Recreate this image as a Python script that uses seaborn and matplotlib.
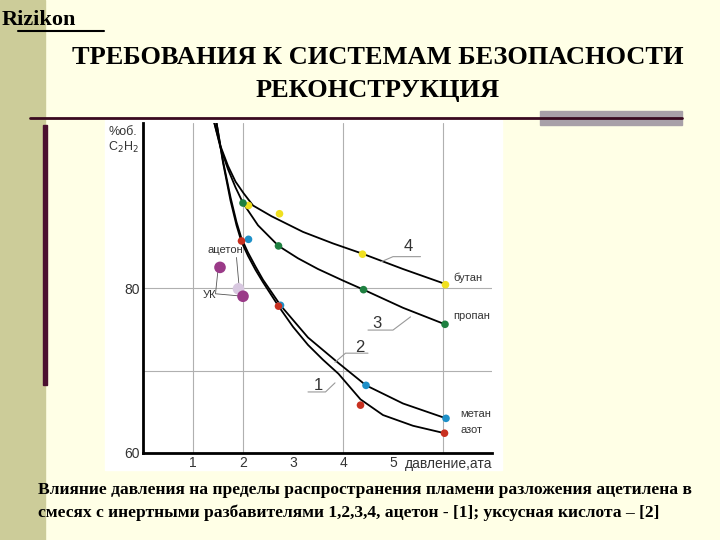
import seaborn as sns
import matplotlib.pyplot as plt
import matplotlib.patches as patches

# curve knots (pressure, %vol C2H2)
c4_x = [1.41, 1.55, 1.7, 1.85, 2.01, 2.2, 2.57, 3.2, 3.8, 4.37, 5.2, 6.04]
c4_y = [100.4, 97.2, 94.8, 92.9, 91.5, 90.0, 88.7, 86.8, 85.4, 84.2, 82.3, 80.5]
c3_x = [1.41, 1.55, 1.7, 1.85, 2.0, 2.3, 2.71, 3.1, 3.5, 4.0, 4.41, 5.2, 6.04]
c3_y = [100.4, 97.0, 94.4, 92.2, 90.3, 87.6, 85.1, 83.6, 82.3, 80.9, 79.8, 77.6, 75.6]
c2_x = [1.46, 1.6, 1.75, 1.87, 1.97, 2.1, 2.25, 2.4, 2.75, 3.3, 3.91, 4.46, 5.2, 6.06]
c2_y = [100.4, 95.4, 91.0, 88.0, 86.0, 84.3, 82.6, 81.0, 77.9, 74.0, 70.9, 68.2, 66.0, 64.2]
c1_x = [1.46, 1.6, 1.75, 1.87, 1.97, 2.1, 2.25, 2.4, 2.71, 3.0, 3.3, 3.6, 3.91, 4.35, 4.8, 5.4, 6.03]
c1_y = [100.4, 95.2, 90.6, 87.6, 85.6, 83.9, 82.2, 80.7, 77.8, 75.3, 73.1, 71.3, 69.6, 66.5, 64.6, 63.3, 62.4]

butane_x = [2.11, 2.73, 4.39, 6.05]
butane_y = [90.0, 89.0, 84.1, 80.4]
propane_x = [2.0, 2.71, 4.41, 6.04]
propane_y = [90.3, 85.1, 79.8, 75.6]
methane_x = [2.11, 2.75, 4.46, 6.06]
methane_y = [85.9, 77.9, 68.2, 64.2]
nitrogen_x = [1.97, 2.71, 4.35, 6.03]
nitrogen_y = [85.7, 77.8, 65.8, 62.4]
acetone_x = [1.91]
acetone_y = [79.9]
acetic_x = [1.54, 2.0]
acetic_y = [82.5, 79.0]

bg = '#FFFFE6'
fig = plt.figure(figsize=(7.2, 5.4), dpi=100, facecolor=bg)
sns.set_style('white')
plt.rcParams['font.family'] = ['Liberation Sans', 'DejaVu Sans']

# slide decorations
fig.patches.append(patches.Rectangle((0, 0), 45 / 720, 1, transform=fig.transFigure,
                                     color='#CCCC99', zorder=0))
fig.patches.append(patches.Rectangle((43 / 720, 155 / 540), 4 / 720, 260 / 540,
                                     transform=fig.transFigure, color='#4B1030', zorder=1))
fig.patches.append(patches.Rectangle((540 / 720, 415 / 540), 142 / 720, 14 / 540,
                                     transform=fig.transFigure, color='#A8A0A8', zorder=1))
fig.lines.append(plt.Line2D([30 / 720, 682 / 720], [422 / 540, 422 / 540],
                            transform=fig.transFigure, color='#3A0A20', lw=2))
fig.patches.append(patches.Rectangle((105 / 720, 70 / 540), 397 / 720, 350 / 540,
                                     transform=fig.transFigure, color='white', zorder=1))

serif = ['Liberation Serif', 'DejaVu Serif']
fig.text(2 / 720, 1 - 20 / 540, 'Rizikon', family=serif, weight='bold', fontsize=16,
         va='center', color='black')
fig.lines.append(plt.Line2D([18 / 720, 104 / 720], [1 - 31 / 540, 1 - 31 / 540],
                            transform=fig.transFigure, color='black', lw=1.5))
fig.text(378 / 720, 1 - 57 / 540, 'ТРЕБОВАНИЯ К СИСТЕМАМ БЕЗОПАСНОСТИ', family=serif,
         weight='bold', fontsize=19, ha='center', va='center', color='black')
fig.text(378 / 720, 1 - 90 / 540, 'РЕКОНСТРУКЦИЯ', family=serif, weight='bold',
         fontsize=19, ha='center', va='center', color='black')
fig.text(38 / 720, 1 - 490 / 540, 'Влияние давления на пределы распространения пламени разложения ацетилена в',
         family=serif, weight='bold', fontsize=12.6, va='center', color='black')
fig.text(38 / 720, 1 - 513 / 540, 'смесях с инертными разбавителями 1,2,3,4, ацетон - [1]; уксусная кислота – [2]',
         family=serif, weight='bold', fontsize=12.6, va='center', color='black')

ax = fig.add_axes([143 / 720, 1 - 453 / 540, 349 / 720, 330 / 540])
ax.set_facecolor('white')
ax.set_zorder(2)
ax.set_xlim(0, 6.98)
ax.set_ylim(60, 100)
for x in [1, 2, 4, 6]:
    ax.axvline(x, color='#B0B0B0', lw=0.8, zorder=0)
for y in [70, 80]:
    ax.axhline(y, color='#B0B0B0', lw=0.8, zorder=0)

for cx, cy in [(c4_x, c4_y), (c3_x, c3_y), (c2_x, c2_y), (c1_x, c1_y)]:
    sns.lineplot(x=cx, y=cy, ax=ax, color='black', lw=1.3, sort=False)

pts = [(butane_x, butane_y, '#F0E020', 30), (propane_x, propane_y, '#1E8040', 30),
       (methane_x, methane_y, '#1E90C8', 30), (nitrogen_x, nitrogen_y, '#C83020', 30),
       (acetone_x, acetone_y, '#D8C8E0', 70), (acetic_x, acetic_y, '#9A3A88', 70)]
for px, py, c, s in pts:
    sns.scatterplot(x=px, y=py, ax=ax, color=c, s=s, edgecolor='none', zorder=3)

lab = dict(fontsize=8, color='#333333')
ax.text(6.2, 80.9, 'бутан', **lab)
ax.text(6.2, 76.2, 'пропан', **lab)
ax.text(6.35, 64.4, 'метан', **lab)
ax.text(6.35, 62.4, 'азот', **lab)
ax.text(1.3, 84.2, 'ацетон', **lab)
ax.text(1.2, 79.2, 'УК', **lab, va='center')
ax.plot([1.87, 1.92], [83.7, 80.3], color='#555555', lw=0.6)
ax.plot([1.5, 1.45, 2.0], [82.2, 79.3, 79.0], color='#555555', lw=0.6)

num = dict(fontsize=12, color='#333333', ha='center')
for t, tx, ty, lx, ly in [('4', 5.3, 84.5, [4.77, 5.0, 5.55], [83.2, 83.8, 83.8]),
                          ('3', 4.67, 75.2, [4.5, 5.0, 5.35], [74.9, 74.9, 76.5]),
                          ('2', 4.34, 72.3, [3.84, 4.05, 4.5], [71.0, 72.1, 72.1]),
                          ('1', 3.51, 67.6, [3.3, 3.65, 3.84], [67.4, 67.4, 68.5])]:
    ax.text(tx, ty, t, **num)
    ax.plot(lx, ly, color='#999999', lw=0.8)

ax.set_xticks([1, 2, 3, 4, 5])
ax.set_yticks([60, 80])
ax.tick_params(length=0, labelsize=10, colors='#333333', pad=2)
for s in ['top', 'right']:
    ax.spines[s].set_visible(False)
for s in ['left', 'bottom']:
    ax.spines[s].set_linewidth(2)
    ax.spines[s].set_color('black')
ax.text(1.0, -0.012, 'давление,ата', transform=ax.transAxes, ha='right', va='top',
        fontsize=10, color='#333333')
ax.text(-0.1, 0.99, '%об.\nC$_2$H$_2$', transform=ax.transAxes, ha='left', va='top',
        fontsize=9, color='#333333', linespacing=1.1)

fig.savefig('out.png', dpi=100, facecolor=bg)
